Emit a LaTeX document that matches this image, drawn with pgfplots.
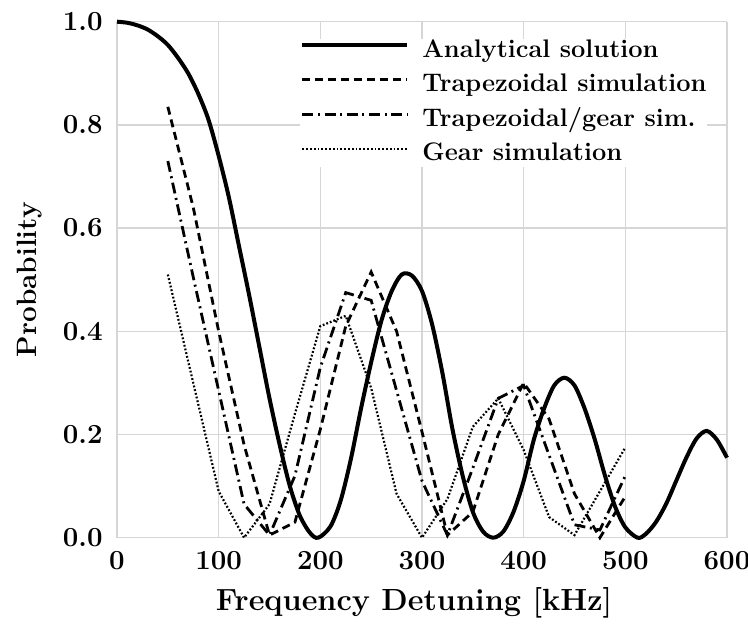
\documentclass[border=0pt]{standalone}
\usepackage{pgfplots}
\pgfplotsset{compat=1.18}
\pgfplotstableread{
x y
0 1.0
10 0.998
20 0.993
30 0.985
40 0.972
50 0.955
60 0.93
70 0.90
80 0.86
90 0.81
100 0.74
110 0.66
120 0.565
130 0.47
140 0.37
150 0.27
160 0.18
170 0.10
180 0.042
190 0.009
198 0.0
210 0.022
220 0.072
230 0.152
240 0.25
250 0.34
260 0.42
270 0.477
280 0.510
290 0.508
300 0.478
310 0.413
320 0.32
330 0.21
340 0.12
350 0.05
360 0.012
370 0.0
380 0.012
390 0.05
400 0.11
410 0.19
420 0.25
430 0.295
440 0.31
450 0.295
460 0.25
470 0.19
480 0.12
490 0.06
500 0.02
512 0.0
520 0.007
530 0.03
540 0.065
550 0.11
560 0.155
570 0.192
580 0.207
590 0.19
600 0.155
}\analytical
\pgfplotstableread{
x trap tg gear
50 0.835 0.73 0.51
75 0.64 0.505 0.30
100 0.40 0.285 0.09
125 0.18 0.065 0.0
150 0.005 0.005 0.065
175 0.03 0.12 0.24
200 0.21 0.33 0.41
225 0.41 0.475 0.43
250 0.515 0.46 0.29
275 0.40 0.285 0.085
300 0.205 0.11 0.0
325 0.005 0.005 0.075
350 0.05 0.135 0.215
375 0.20 0.27 0.27
400 0.30 0.295 0.17
425 0.23 0.16 0.04
450 0.085 0.025 0.005
475 0.0 0.015 0.09
500 0.08 0.12 0.175
}\sims
\begin{document}
\begin{tikzpicture}
\useasboundingbox (-58.5pt,-43.75pt) rectangle (315.5pt,268.85pt);
\begin{axis}[
  at={(0pt,0pt)}, anchor=south west,
  scale only axis, width=305pt, height=258pt,
  xmin=0, xmax=600, ymin=0, ymax=1,
  clip=false,
  xtick={0,100,200,300,400,500,600},
  xticklabels={0,100,200,300,400,500,600},
  ytick={0,0.2,0.4,0.6,0.8,1},
  yticklabels={0.0,0.2,0.4,0.6,0.8,1.0},
  grid=major,
  major grid style={draw=gray!32, line width=0.75pt},
  axis line style={draw=none},
  major tick length=0pt,
  tick label style={font=\fontsize{13.8}{16}\selectfont\bfseries},
  xticklabel style={anchor=center, yshift=-11.25pt},
  yticklabel style={anchor=east, inner sep=0pt, xshift=-7pt},
  xlabel={Frequency Detuning [kHz]},
  ylabel={Probability},
  xlabel style={at={(axis description cs:0.487,-0.127)}, anchor=center, font=\fontsize{15.3}{18}\selectfont\bfseries},
  ylabel style={at={(axis description cs:-0.1426,0.5)}, anchor=center, font=\fontsize{14}{16}\selectfont\bfseries},
  legend style={at={(rel axis cs:0.30,0.967)}, anchor=north west, draw=none, fill=white, inner sep=0pt,
    font=\fontsize{12.7}{14}\selectfont\bfseries,
    nodes={inner sep=0pt, text height=9pt, text depth=3pt},
    row sep=5.3pt},
  legend cell align=left,
  legend image code/.code={\draw[#1] (0pt,0.3em) -- (52.5pt,0.3em); \path (59pt,0pt);},
]
\addplot[black, line width=2pt, smooth] table[x=x,y=y]{\analytical};
\addlegendentry{Analytical solution}
\addplot[black, line width=1.4pt, dash pattern=on 4pt off 2.5pt] table[x=x,y=trap]{\sims};
\addlegendentry{Trapezoidal simulation}
\addplot[black, line width=1.4pt, dash pattern=on 5.5pt off 2.3pt on 1pt off 2.3pt] table[x=x,y=tg]{\sims};
\addlegendentry{Trapezoidal/gear sim.}
\addplot[black, line width=1.1pt, dash pattern=on 0.9pt off 1pt] table[x=x,y=gear]{\sims};
\addlegendentry{Gear simulation}
\end{axis}
\end{tikzpicture}
\end{document}
